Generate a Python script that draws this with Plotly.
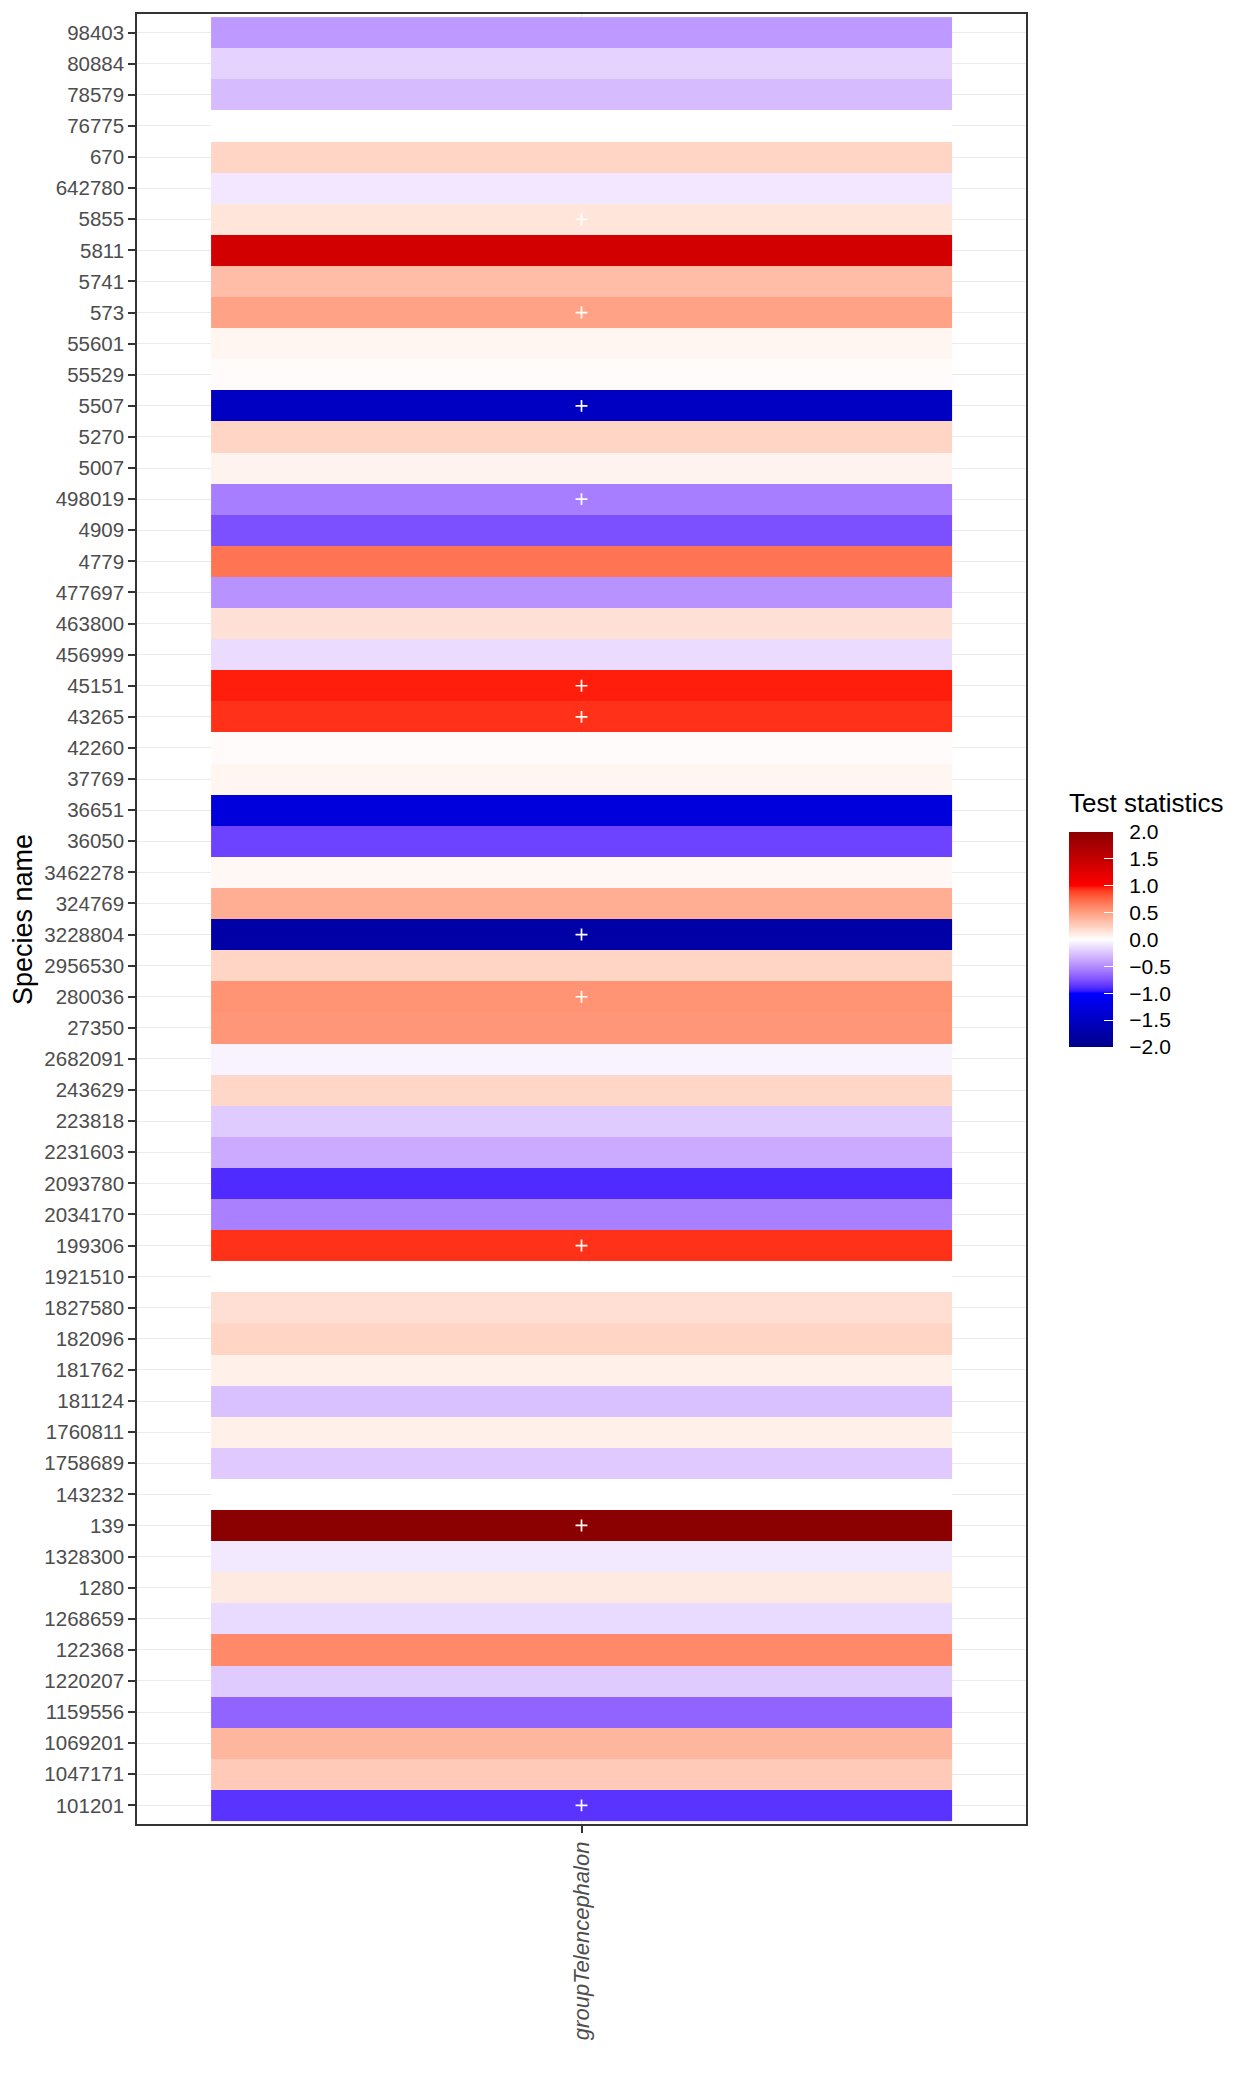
import plotly.graph_objects as go

# ---------------- data ----------------
species = [
    "98403", "80884", "78579", "76775", "670", "642780", "5855", "5811", "5741", "573",
    "55601", "55529", "5507", "5270", "5007", "498019", "4909", "4779", "477697", "463800",
    "456999", "45151", "43265", "42260", "37769", "36651", "36050", "3462278", "324769", "3228804",
    "2956530", "280036", "27350", "2682091", "243629", "223818", "2231603", "2093780", "2034170", "199306",
    "1921510", "1827580", "182096", "181762", "181124", "1760811", "1758689", "143232", "139", "1328300",
    "1280", "1268659", "122368", "1220207", "1159556", "1069201", "1047171", "101201",
]
test_stat = [
    -0.44, -0.19, -0.29, 0.0, 0.22, -0.10, 0.14, 1.37, 0.35, 0.48,
    0.05, 0.02, -1.51, 0.22, 0.06, -0.56, -0.76, 0.69, -0.47, 0.16,
    -0.15, 0.97, 0.93, 0.02, 0.05, -1.29, -0.81, 0.04, 0.42, -1.75,
    0.22, 0.55, 0.54, -0.05, 0.21, -0.22, -0.36, -0.90, -0.55, 0.93,
    0.0, 0.17, 0.22, 0.08, -0.27, 0.08, -0.23, 0.0, 2.0, -0.09,
    0.11, -0.16, 0.60, -0.22, -0.67, 0.38, 0.28, -0.87,
]
significant = [
    "5855", "573", "5507", "498019", "45151", "43265", "3228804", "280036", "199306", "139", "101201",
]
group = ["groupTelencephalon"]
cbar_ticks = [2.0, 1.5, 1.0, 0.5, 0.0, -0.5, -1.0, -1.5, -2.0]

# ---------------- colour scale (CIELAB interpolation like ggplot) ----------------
anchor_cols = ["#00008B", "#0000FF", "#FFFFFF", "#FF0000", "#8B0000"]


def _lin(c):
    return c / 12.92 if c <= 0.04045 else ((c + 0.055) / 1.055) ** 2.4


def _gam(c):
    c = max(0.0, min(1.0, c))
    return 12.92 * c if c <= 0.0031308 else 1.055 * c ** (1 / 2.4) - 0.055


Xn, Yn, Zn = 0.95047, 1.0, 1.08883


def hex_to_lab(h):
    r, g, b = (_lin(int(h[i:i + 2], 16) / 255) for i in (1, 3, 5))
    X = 0.4124 * r + 0.3576 * g + 0.1805 * b
    Y = 0.2126 * r + 0.7152 * g + 0.0722 * b
    Z = 0.0193 * r + 0.1192 * g + 0.9505 * b

    def f(t):
        return t ** (1 / 3) if t > 0.008856 else 7.787 * t + 16 / 116

    fx, fy, fz = f(X / Xn), f(Y / Yn), f(Z / Zn)
    return (116 * fy - 16, 500 * (fx - fy), 200 * (fy - fz))


def lab_to_rgb(L, a, b):
    fy = (L + 16) / 116
    fx = fy + a / 500
    fz = fy - b / 200

    def finv(t):
        return t ** 3 if t > 0.2069 else (t - 16 / 116) / 7.787

    X, Y, Z = Xn * finv(fx), Yn * finv(fy), Zn * finv(fz)
    r = 3.2406 * X - 1.5372 * Y - 0.4986 * Z
    g = -0.9689 * X + 1.8758 * Y + 0.0415 * Z
    bb = 0.0557 * X - 0.2040 * Y + 1.0570 * Z
    return "rgb(%d,%d,%d)" % tuple(round(_gam(c) * 255) for c in (r, g, bb))


labs = [hex_to_lab(c) for c in anchor_cols]
colorscale = []
n = 120
for i in range(n + 1):
    t = i / n
    pos = t * (len(labs) - 1)
    k = min(int(pos), len(labs) - 2)
    f = pos - k
    L = labs[k][0] + (labs[k + 1][0] - labs[k][0]) * f
    A = labs[k][1] + (labs[k + 1][1] - labs[k][1]) * f
    B = labs[k][2] + (labs[k + 1][2] - labs[k][2]) * f
    colorscale.append([t, lab_to_rgb(L, A, B)])

# ---------------- figure ----------------
FONT = "Liberation Sans, Arial, Helvetica, sans-serif"
W, H = 1258, 2088
L_M, R_M, T_M, B_M = 137, 232, 14, 264
plot_w = W - L_M - R_M
plot_h = H - T_M - B_M


def px_x(x):
    return (x - L_M) / plot_w


def px_y(y):
    return (T_M + plot_h - y) / plot_h


NB = "\u00a0"
fig = go.Figure()
fig.add_trace(go.Heatmap(
    x=group,
    y=species,
    z=[[v] for v in test_stat],
    zmin=-2, zmax=2,
    colorscale=colorscale,
    xgap=0, ygap=0,
    colorbar=dict(
        tickvals=cbar_ticks,
        ticktext=[NB * 2 + ("%.1f" % v).replace("-", "\u2212") for v in cbar_ticks],
        tickfont=dict(family=FONT, size=21, color="#000000"),
        ticks="inside", ticklen=9, tickwidth=1, tickcolor="white",
        outlinewidth=0,
        thickness=44,
        lenmode="pixels", len=215,
        x=px_x(1069), xanchor="left", xpad=0,
        y=px_y(1047), yanchor="bottom", ypad=0,
    ),
    hovertemplate="%{y}: %{z}<extra></extra>",
))

fig.add_trace(go.Scatter(
    x=[group[0]] * len(significant),
    y=significant,
    mode="markers",
    marker=dict(symbol="cross-thin", size=8.5, color="white",
                line=dict(color="white", width=1.7)),
    showlegend=False,
    hoverinfo="skip",
))

axis_common = dict(
    showline=True, linecolor="#333333", linewidth=1.5, mirror=True,
    ticks="outside", ticklen=7, tickwidth=1.5, tickcolor="#333333",
    showgrid=True, gridcolor="#EBEBEB", gridwidth=1.3,
    zeroline=False,
)

fig.update_layout(
    width=W, height=H,
    margin=dict(l=L_M, r=R_M, t=T_M, b=B_M, pad=0),
    paper_bgcolor="white", plot_bgcolor="white",
    showlegend=False,
    xaxis=dict(
        type="category", categoryorder="array", categoryarray=group,
        range=[-0.6, 0.6], tickangle=-90,
        tickfont=dict(family=FONT, size=22, color="#4D4D4D", style="italic"),
        **axis_common,
    ),
    yaxis=dict(
        type="category", categoryorder="array", categoryarray=species,
        range=[len(species) - 0.4, -0.6],
        tickfont=dict(family=FONT, size=20.5, color="#4D4D4D"),
        **axis_common,
    ),
    annotations=[
        dict(
            text="Species name", textangle=-90,
            xref="paper", yref="paper",
            x=px_x(23), y=px_y(920),
            xanchor="center", yanchor="middle", showarrow=False,
            font=dict(family=FONT, size=27, color="#000000"),
        ),
        dict(
            text="Test statistics",
            xref="paper", yref="paper",
            x=px_x(1067), y=px_y(820),
            xanchor="left", yanchor="bottom", showarrow=False,
            font=dict(family=FONT, size=26, color="#000000"),
        ),
    ],
)

fig.write_html("out.html")
